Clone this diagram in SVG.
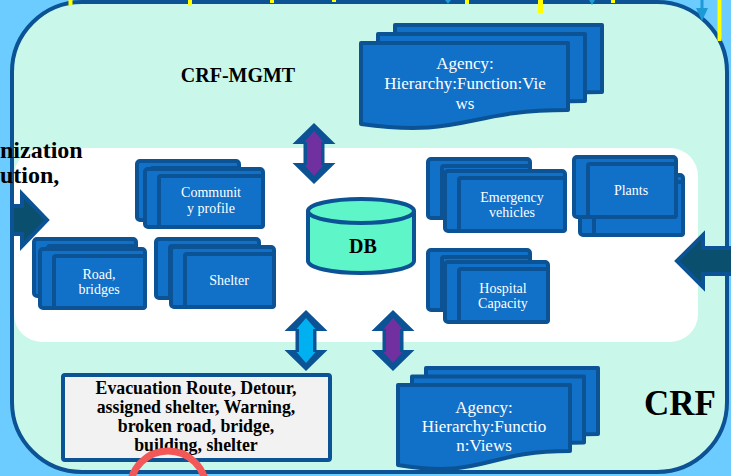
<svg xmlns="http://www.w3.org/2000/svg" width="731" height="476" viewBox="0 0 731 476">
<style>
.card{fill:#1170C8;stroke:#0B5394;stroke-width:4}
.doc{fill:#1170C8;stroke:#0B5394;stroke-width:4;stroke-linejoin:round}
.wt{font-family:"Liberation Serif",serif;fill:#ffffff;text-anchor:middle;font-size:14px}
.wd{font-family:"Liberation Serif",serif;fill:#ffffff;text-anchor:middle;font-size:17px}
.bt{font-family:"Liberation Serif",serif;font-weight:bold;fill:#000000;text-anchor:middle}
.harrow{fill:#0A4F6E;stroke:#0B5394;stroke-width:4;stroke-linejoin:miter}
.tick{fill:#FFFF00}
</style>
<defs>
<path id="dblOut" d="M0,0 L21.5,21 L10.5,21 L10.5,40 L21.5,40 L0,61 L-21.5,40 L-10.5,40 L-10.5,21 L-21.5,21 Z" fill="#0B5394"/>
<path id="dblIn" d="M0,8 L9.5,19 L7,19 L7,42 L9.5,42 L0,53 L-9.5,42 L-7,42 L-7,19 L-9.5,19 Z"/>
<path id="docTop" d="M0,0 H207 V67 C104,67 104,95 0,81 Z"/>
<path id="docBot" d="M0,0 H172 V66 C86,66 86,94 0,80 Z"/>
</defs>

<rect x="0" y="0" width="731" height="476" fill="#6CCBFF"/>

<g id="crf-container">
<rect x="12" y="2" width="715" height="470" rx="70" ry="70" fill="#C9F8EB" stroke="#0B5394" stroke-width="4"/>
<rect x="14" y="148" width="684" height="194" rx="28" ry="28" fill="#ffffff"/>
</g>

<g id="top-marks">
<rect class="tick" x="68.5" y="0" width="4" height="5"/>
<rect class="tick" x="188" y="0" width="4" height="6"/>
<rect class="tick" x="270" y="0" width="4" height="3"/>
<rect class="tick" x="332" y="0" width="4" height="2"/>
<path d="M445,0 H451 L448,4 Z" fill="#1B9AD6"/>
<rect class="tick" x="465" y="0" width="4" height="4"/>
<rect class="tick" x="538" y="0" width="5" height="13"/>
<path d="M589,0 H595 L592,5 Z" fill="#1B9AD6"/>
<rect class="tick" x="611" y="0" width="4" height="3"/>
<path d="M700.5,0 H703.5 V8 H708 L702,21 L696,8 H700.5 Z" fill="#1B9AD6"/>
<rect class="tick" x="717.5" y="0" width="4" height="41"/>
</g>

<g id="connectors">
<path class="harrow" d="M4,206 H22 V194 L47,220 L22,246 V234 H4 Z"/>
<rect x="0" y="185" width="10" height="70" fill="#6CCBFF"/>
<line x1="12" y1="185" x2="12" y2="255" stroke="#0B5394" stroke-width="4"/>
<path class="harrow" d="M677,261 L703,235 V248 H735 V274 H703 V287 Z"/>
<use href="#dblOut" x="314" y="123"/>
<use href="#dblIn" x="314" y="123" fill="#7030A0"/>
<use href="#dblOut" x="306" y="310"/>
<use href="#dblIn" x="306" y="310" fill="#00B0F0"/>
<use href="#dblOut" x="393" y="310"/>
<use href="#dblIn" x="393" y="310" fill="#7030A0"/>
</g>

<g id="labels">
<text class="bt" x="0" y="158" style="text-anchor:start" font-size="24">nization</text>
<text class="bt" x="0" y="183" style="text-anchor:start" font-size="24">ution,</text>
<text class="bt" x="238" y="82" font-size="20">CRF-MGMT</text>
<text class="bt" x="680" y="415" font-size="35">CRF</text>
</g>

<g id="agency-top">
<use href="#docTop" x="395" y="25" class="doc"/>
<use href="#docTop" x="378" y="34" class="doc"/>
<use href="#docTop" x="361" y="43" class="doc"/>
<text class="wd" x="465" y="69">Agency:</text>
<text class="wd" x="465" y="89">Hierarchy:Function:Vie</text>
<text class="wd" x="465" y="109">ws</text>
</g>

<g id="agency-bottom">
<use href="#docBot" x="426" y="368" class="doc"/>
<use href="#docBot" x="412" y="376.5" class="doc"/>
<use href="#docBot" x="398" y="385" class="doc"/>
<text class="wd" x="484" y="413">Agency:</text>
<text class="wd" x="484" y="432">Hierarchy:Functio</text>
<text class="wd" x="484" y="451">n:Views</text>
</g>

<g id="community-profile">
<rect class="card" x="137" y="161" width="102" height="59" rx="3"/>
<rect class="card" x="151" y="168" width="88" height="52" rx="2"/>
<rect class="card" x="145" y="169" width="118" height="58" rx="3"/>
<rect class="card" x="159" y="176" width="104" height="51" rx="2"/>
<text class="wt" x="211" y="197">Communit</text>
<text class="wt" x="211" y="213">y profile</text>
</g>

<g id="road-bridges">
<rect class="card" x="34" y="239" width="102" height="57" rx="3"/>
<rect class="card" x="48" y="246" width="88" height="50" rx="2"/>
<rect class="card" x="40" y="249" width="105" height="59" rx="3"/>
<rect class="card" x="54" y="256" width="91" height="52" rx="2"/>
<text class="wt" x="99" y="279">Road,</text>
<text class="wt" x="99" y="294">bridges</text>
</g>

<g id="shelter">
<rect class="card" x="156" y="239" width="103" height="59" rx="3"/>
<rect class="card" x="170" y="246" width="89" height="52" rx="2"/>
<rect class="card" x="171" y="247" width="103" height="60" rx="3"/>
<rect class="card" x="185" y="254" width="89" height="53" rx="2"/>
<text class="wt" x="229" y="285">Shelter</text>
</g>

<g id="db">
<path d="M308,211 V261 A53,12 0 0 0 414,261 V211" fill="#5EF5C8" stroke="#0B5394" stroke-width="4"/>
<ellipse cx="361" cy="211" rx="53" ry="12" fill="#5EF5C8" stroke="#0B5394" stroke-width="4"/>
<text class="bt" x="363" y="253" font-size="20">DB</text>
</g>

<g id="emergency-vehicles">
<rect class="card" x="428" y="159" width="102" height="59" rx="3"/>
<rect class="card" x="442" y="166" width="88" height="52" rx="2"/>
<rect class="card" x="445" y="171" width="120" height="60" rx="3"/>
<rect class="card" x="459" y="178" width="106" height="53" rx="2"/>
<text class="wt" x="512" y="202">Emergency</text>
<text class="wt" x="512" y="217">vehicles</text>
</g>

<g id="plants">
<rect class="card" x="580" y="175" width="103" height="60" rx="3"/>
<rect class="card" x="594" y="182" width="89" height="53" rx="2"/>
<rect class="card" x="574" y="157" width="102" height="60" rx="3"/>
<rect class="card" x="588" y="164" width="88" height="53" rx="2"/>
<text class="wt" x="631" y="195">Plants</text>
</g>

<g id="hospital-capacity">
<rect class="card" x="428" y="250" width="102" height="60" rx="3"/>
<rect class="card" x="442" y="257" width="88" height="53" rx="2"/>
<rect class="card" x="445" y="262" width="103" height="60" rx="3"/>
<rect class="card" x="459" y="269" width="89" height="53" rx="2"/>
<text class="wt" x="503" y="293">Hospital</text>
<text class="wt" x="503" y="308">Capacity</text>
</g>

<g id="evacuation-info">
<rect x="63" y="375" width="267" height="85" rx="2" fill="#F2F2F2" stroke="#0B5394" stroke-width="4"/>
<text class="bt" x="196" y="394" font-size="17.8">Evacuation Route, Detour,</text>
<text class="bt" x="196" y="413" font-size="17.8">assigned shelter, Warning,</text>
<text class="bt" x="196" y="432" font-size="17.8">broken road, bridge,</text>
<text class="bt" x="196" y="451" font-size="17.8">building, shelter</text>
</g>

<g id="highlight">
<circle cx="168" cy="489" r="38" fill="none" stroke="#F25858" stroke-width="7"/>
</g>
</svg>
